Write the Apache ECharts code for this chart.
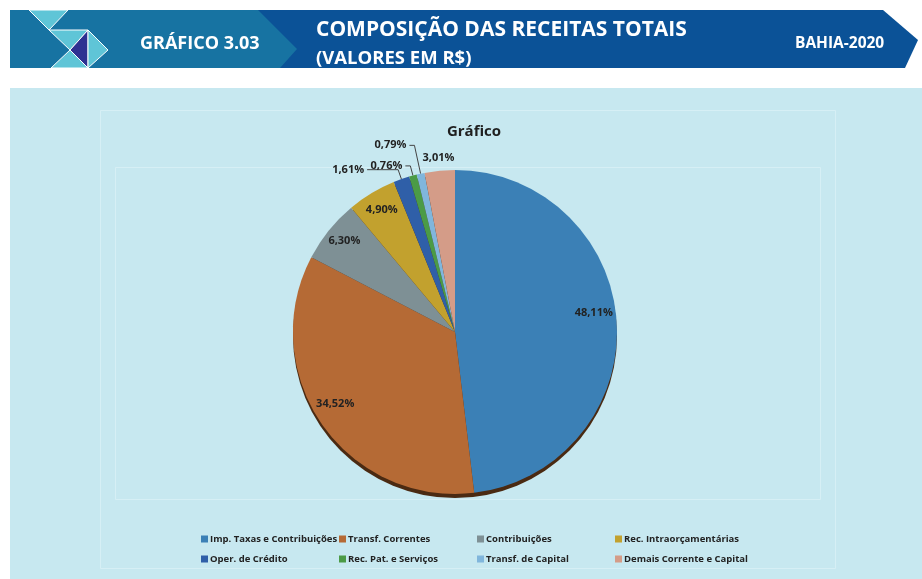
<!DOCTYPE html>
<html>
<head>
<meta charset="utf-8">
<script src="https://cdn.jsdelivr.net/npm/echarts@6/dist/echarts.min.js"></script>
<style>
  html, body { margin: 0; padding: 0; background: #ffffff; }
  #chart { width: 922px; height: 579px; }
</style>
</head>
<body>
<div id="chart"></div>
<script>
// ---- Data ----
const categories = [
  'Imp. Taxas e Contribuições',
  'Transf. Correntes',
  'Contribuições',
  'Rec. Intraorçamentárias',
  'Oper. de Crédito',
  'Rec. Pat. e Serviços',
  'Transf. de Capital',
  'Demais Corrente e Capital'
];
const shares = [48.11, 34.52, 6.30, 4.90, 1.61, 0.76, 0.79, 3.01];
const sliceColors = ['#3b80b6', '#b56a35', '#7e9095', '#c2a12e', '#2f5fa8', '#4b9b46', '#80b6dc', '#d49c88'];
// label placement style per slice: 'in' = inside band, 'line' = leader line, 'top' = just outside
const labelMode = ['in', 'in', 'in', 'in', 'line', 'line', 'line', 'top'];
const lineLen = [0, 0, 0, 0, 10, 10, 29, 0];
const lineLen2 = [0, 0, 0, 0, 31, 5, 5, 0];
const innerLabelDx = [-3, -3, 0, 0, 0, 0, 0, 0];
const innerLabelDy = [-11, -9, -2, 0, 0, 0, 0, 0];
const legendColumns = [[0, 4], [1, 5], [2, 6], [3, 7]];
const legendLefts = [196, 334, 472, 610];

const fmt = v => v.toFixed(2).replace('.', ',') + '%';
const labelFont = { fontFamily: 'Open Sans', fontWeight: 'bold', fontSize: 11, color: '#222' };

const chart = echarts.init(document.getElementById('chart'), null, { renderer: 'canvas' });

const CX = 455, CY = 332, R = 162;

const mainData = categories.map((n, i) => ({
  name: n, value: shares[i],
  itemStyle: { color: sliceColors[i] },
  label: labelMode[i] === 'line'
    ? Object.assign({ show: true, position: 'outside', distanceToLabelLine: 3, formatter: () => fmt(shares[i]) }, labelFont)
    : { show: false },
  labelLine: labelMode[i] === 'line'
    ? { show: true, length: lineLen[i], length2: lineLen2[i], lineStyle: { color: '#444', width: 1 } }
    : { show: false }
}));

const innerLabelData = categories.map((n, i) => ({
  name: n, value: shares[i],
  itemStyle: { color: 'rgba(0,0,0,0)' },
  label: labelMode[i] === 'in'
    ? Object.assign({ show: true, position: 'inside', formatter: () => fmt(shares[i]) }, labelFont)
    : { show: false }
}));

const topLabelData = categories.map((n, i) => ({
  name: n, value: shares[i],
  itemStyle: { color: 'rgba(0,0,0,0)' },
  label: labelMode[i] === 'top'
    ? Object.assign({ show: true, position: 'inside', formatter: () => fmt(shares[i]) }, labelFont)
    : { show: false }
}));

const total = shares.reduce((a, b) => a + b, 0);

const legends = legendColumns.map((col, k) => ({
  orient: 'vertical',
  left: legendLefts[k],
  top: 528,
  itemWidth: 7,
  itemHeight: 7,
  itemGap: 8,
  icon: 'rect',
  selectedMode: false,
  data: col.map(i => categories[i]),
  textStyle: { fontFamily: 'Open Sans', fontWeight: 'bold', fontSize: 9.5, color: '#222', lineHeight: 12, padding: [0, 0, 0, -3] }
}));

const headerFont = 'Open Sans';

const option = {
  backgroundColor: '#ffffff',
  animation: false,
  title: {
    text: 'Gráfico',
    left: 469, top: 119, textAlign: 'center',
    textStyle: { fontFamily: 'Open Sans', fontWeight: 'bold', fontSize: 15, color: '#1f1f1f' }
  },
  legend: legends,
  graphic: [
    // panel
    { type: 'rect', z: -10, shape: { x: 10, y: 88, width: 912, height: 491 }, style: { fill: '#c7e8f0' }, silent: true },
    { type: 'rect', z: -9, shape: { x: 100.5, y: 110.5, width: 735, height: 458 }, style: { fill: 'none', stroke: '#d6eff5', lineWidth: 1 }, silent: true },
    { type: 'rect', z: -9, shape: { x: 115.5, y: 167.5, width: 705, height: 332 }, style: { fill: 'none', stroke: '#d6eff5', lineWidth: 1 }, silent: true },
    // header bands
    { type: 'polygon', z: -5, shape: { points: [[250, 10], [883, 10], [918, 40], [905, 68], [250, 68]] }, style: { fill: '#0b5297' }, silent: true },
    { type: 'polygon', z: -4, shape: { points: [[10, 10], [258, 10], [297, 49], [280, 68], [10, 68]] }, style: { fill: '#1773a2' }, silent: true },
    // decorative triangles
    { type: 'polygon', z: -3, shape: { points: [[29, 10], [68, 10], [49, 30]] }, style: { fill: '#5fc5d7', stroke: '#ffffff', lineWidth: 1 }, silent: true },
    { type: 'polygon', z: -3, shape: { points: [[49, 30], [88, 30], [70, 50]] }, style: { fill: '#5fc5d7', stroke: '#ffffff', lineWidth: 1 }, silent: true },
    { type: 'polygon', z: -3, shape: { points: [[88, 30], [70, 50], [88, 68]] }, style: { fill: '#2e3192', stroke: '#ffffff', lineWidth: 1 }, silent: true },
    { type: 'polygon', z: -3, shape: { points: [[88, 30], [108, 50], [88, 68]] }, style: { fill: '#5fc5d7', stroke: '#ffffff', lineWidth: 1 }, silent: true },
    { type: 'polygon', z: -3, shape: { points: [[70, 50], [88, 68], [51, 68]] }, style: { fill: '#5fc5d7', stroke: '#ffffff', lineWidth: 1 }, silent: true },
    // header texts
    { type: 'text', z: 5, left: 140, top: 35, style: { text: 'GRÁFICO 3.03', fill: '#ffffff', font: 'bold 18px "' + headerFont + '"' }, silent: true },
    { type: 'text', z: 5, left: 316, top: 20, style: { text: 'COMPOSIÇÃO DAS RECEITAS TOTAIS', fill: '#ffffff', font: 'bold 21px "' + headerFont + '"' }, silent: true },
    { type: 'text', z: 5, left: 316, top: 49, style: { text: '(VALORES EM R$)', fill: '#ffffff', font: 'bold 18.5px "' + headerFont + '"' }, silent: true },
    { type: 'text', z: 5, left: 795, top: 36, style: { text: 'BAHIA-2020', fill: '#ffffff', font: 'bold 15.5px "' + headerFont + '"' }, silent: true }
  ],
  series: [
    {
      type: 'pie', name: 'sombra', silent: true,
      center: [CX, CY + 4], radius: R,
      startAngle: 90, clockwise: true,
      label: { show: false }, labelLine: { show: false },
      data: [{ name: 'total', value: total, itemStyle: { color: '#4a2a12' } }]
    },
    {
      type: 'pie', name: 'Receitas',
      center: [CX, CY], radius: R,
      startAngle: 90, clockwise: true,
      avoidLabelOverlap: false,
      itemStyle: { borderWidth: 0 },
      emphasis: { disabled: true },
      data: mainData
    },
    {
      type: 'pie', name: 'rotulosInternos', silent: true,
      center: [CX, CY], radius: [116, R],
      startAngle: 90, clockwise: true,
      avoidLabelOverlap: false,
      labelLine: { show: false },
      labelLayout: p => ({ dx: innerLabelDx[p.dataIndex], dy: innerLabelDy[p.dataIndex] }),
      data: innerLabelData
    },
    {
      type: 'pie', name: 'rotulosTopo', silent: true,
      center: [CX, CY], radius: [R, R + 20],
      startAngle: 90, clockwise: true,
      avoidLabelOverlap: false,
      labelLine: { show: false },
      data: topLabelData
    }
  ]
};

chart.setOption(option);
</script>
</body>
</html>
